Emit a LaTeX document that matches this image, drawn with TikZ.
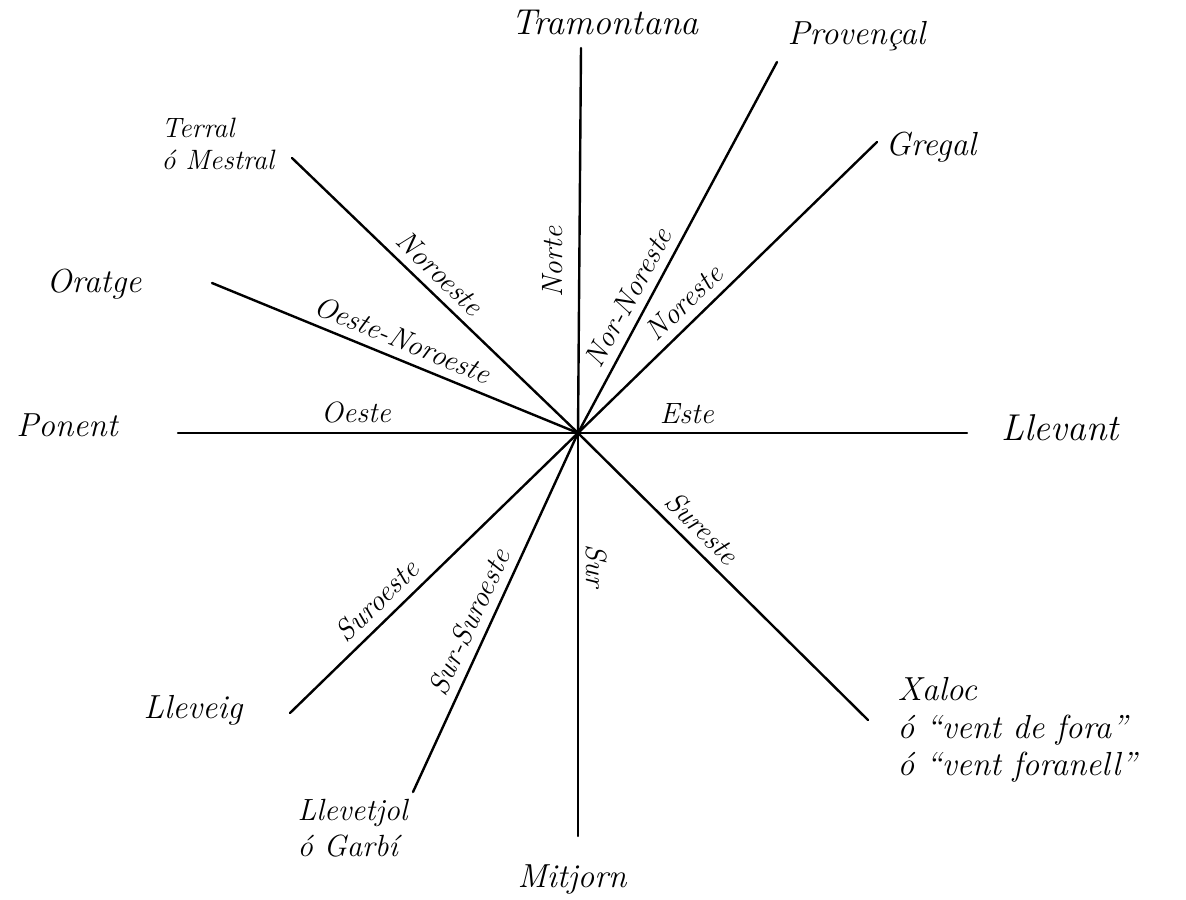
\documentclass[tikz,border=0pt]{standalone}
\usepackage{fontspec}
\begin{document}
\begin{tikzpicture}[x=0.75pt,y=-0.75pt,
  windline/.style={line width=1.8pt,line cap=round},
  wind/.style={font=\fontsize{25}{28}\selectfont\itshape,inner sep=1pt},
  smallwind/.style={font=\fontsize{21}{24}\selectfont\itshape,inner sep=1pt},
  dir/.style={font=\fontsize{22}{25}\selectfont\itshape,inner sep=1pt},
  onln/.style={dir,sloped,above=6pt}]
\useasboundingbox (0,0) rectangle (1186,900);
\fill[white] (0,0) rectangle (1186,900);
% centre and end points
\coordinate (C) at (578,433);
\coordinate (eN) at (581,48);
\coordinate (eNNE) at (777,62);
\coordinate (eNE) at (877,142);
\coordinate (eE) at (967,433);
\coordinate (eSE) at (868,720);
\coordinate (eS) at (578,836);
\coordinate (eSSW) at (413,792);
\coordinate (eSW) at (290,713);
\coordinate (eW) at (178,433);
\coordinate (eWNW) at (212,283);
\coordinate (eNW) at (292,158);
% lines
\foreach \e in {eN,eNNE,eNE,eE,eSE,eS,eSSW,eSW,eW,eWNW,eNW}
  \draw[windline] (C) -- (\e);
% wind names
\node[wind,font=\fontsize{27}{30}\selectfont\itshape] (tram) at (605,22) {Tramontana};
\node[wind,anchor=west] (prov) at (786,36) {Provençal};
\node[wind,anchor=west] (greg) at (884,147) {Gregal};
\node[wind,anchor=west,font=\fontsize{28}{30}\selectfont\itshape] (llev) at (1000,428) {Llevant};
\node[wind,anchor=north west,align=left,font=\fontsize{25}{28}\selectfont\itshape] (xal) at (896,676) {Xaloc\\ó “vent de fora”\\ó “vent foranell”};
\node[wind] (mitj) at (572,880) {Mitjorn};
\node[wind,anchor=north west,align=left,font=\fontsize{23}{27}\selectfont\itshape] (garb) at (296,798) {Llevetjol\\ó Garbí};
\node[wind] (lleb) at (193,710) {Lleveig};
\node[wind] (pon) at (67,425) {Ponent};
\node[wind] (orat) at (94,284) {Oratge};
\node[smallwind,anchor=north west,align=left] (terr) at (160,116) {Terral\\ó Mestral};
% direction names along the lines
\node[dir,rotate=90] (dN) at (553,262) {Norte};
\path (C) -- (eNNE) node[onln,pos=0.34] (dNNE) {Nor-Noreste};
\path (C) -- (eNE) node[onln,pos=0.40] (dNE) {Noreste};
\path (C) -- (eE) node[onln,pos=0.28] (dE) {Este};
\path (C) -- (eSE) node[onln,pos=0.38] (dSE) {Sureste};
\node[dir,rotate=-90] (dS) at (597,566) {Sur};
\path (C) -- (eSSW) node[onln,pos=0.55] (dSSW) {Sur-Suroeste};
\path (C) -- (eSW) node[onln,pos=0.65] (dSW) {Suroeste};
\path (C) -- (eW) node[onln,pos=0.555] (dW) {Oeste};
\path (C) -- (eWNW) node[onln,pos=0.50] (dWNW) {Oeste-Noroeste};
\path (C) -- (eNW) node[onln,pos=0.53] (dNW) {Noroeste};
\end{tikzpicture}
\end{document}
